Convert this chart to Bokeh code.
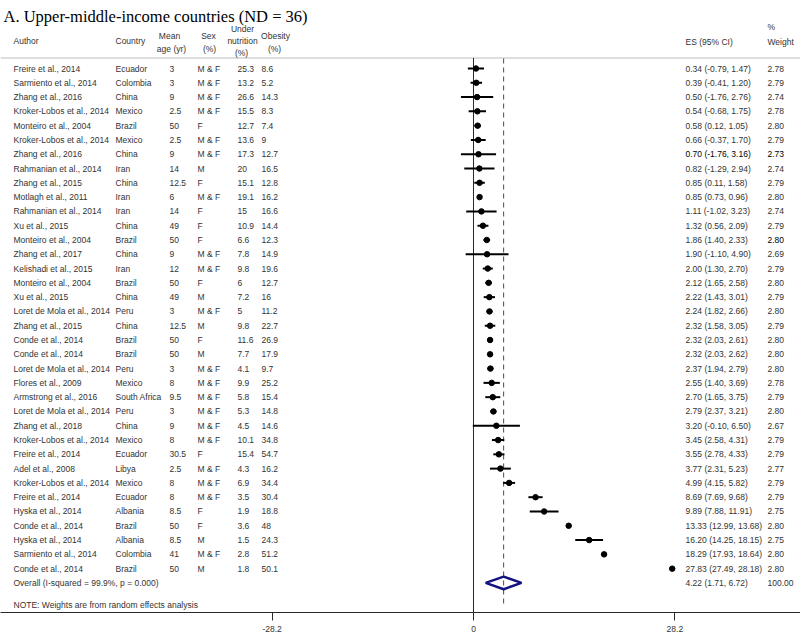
from bokeh.plotting import figure
from bokeh.models import Range1d, ColumnDataSource, FixedTicker
from bokeh.core.properties import value
from bokeh.embed import file_html
from bokeh.resources import INLINE

# ---------------- data ----------------
title = "A. Upper-middle-income countries (ND = 36)"
authors = ["Freire et al., 2014", "Sarmiento et al., 2014", "Zhang et al., 2016",
           "Kroker-Lobos et al., 2014", "Monteiro et al., 2004", "Kroker-Lobos et al., 2014",
           "Zhang et al., 2016", "Rahmanian et al., 2014", "Zhang et al., 2015",
           "Motlagh et al., 2011", "Rahmanian et al., 2014", "Xu et al., 2015",
           "Monteiro et al., 2004", "Zhang et al., 2017", "Kelishadi et al., 2015",
           "Monteiro et al., 2004", "Xu et al., 2015", "Loret de Mola et al., 2014",
           "Zhang et al., 2015", "Conde et al., 2014", "Conde et al., 2014",
           "Loret de Mola et al., 2014", "Flores et al., 2009", "Armstrong et al., 2016",
           "Loret de Mola et al., 2014", "Zhang et al., 2018", "Kroker-Lobos et al., 2014",
           "Freire et al., 2014", "Adel et al., 2008", "Kroker-Lobos et al., 2014",
           "Freire et al., 2014", "Hyska et al., 2014", "Conde et al., 2014",
           "Hyska et al., 2014", "Sarmiento et al., 2014", "Conde et al., 2014"]
countries = ["Ecuador", "Colombia", "China", "Mexico", "Brazil", "Mexico", "China", "Iran",
             "China", "Iran", "Iran", "China", "Brazil", "China", "Iran", "Brazil", "China",
             "Peru", "China", "Brazil", "Brazil", "Peru", "Mexico", "South Africa", "Peru",
             "China", "Mexico", "Ecuador", "Libya", "Mexico", "Ecuador", "Albania", "Brazil",
             "Albania", "Colombia", "Brazil"]
mean_age = [3, 3, 9, 2.5, 50, 2.5, 9, 14, 12.5, 6, 14, 49, 50, 9, 12, 50, 49, 3, 12.5, 50,
            50, 3, 8, 9.5, 3, 9, 8, 30.5, 2.5, 8, 8, 8.5, 50, 8.5, 41, 50]
sex = ["M & F", "M & F", "M & F", "M & F", "F", "M & F", "M & F", "M", "F", "M & F",
       "F", "F", "F", "M & F", "M & F", "F", "M", "M & F", "M", "F",
       "M", "M & F", "M & F", "M & F", "M & F", "M & F", "M & F", "F", "M & F", "M & F",
       "M & F", "F", "F", "M", "M & F", "M"]
undernutrition = [25.3, 13.2, 26.6, 15.5, 12.7, 13.6, 17.3, 20, 15.1, 19.1, 15, 10.9, 6.6,
                  7.8, 9.8, 6, 7.2, 5, 9.8, 11.6, 7.7, 4.1, 9.9, 5.8, 5.3, 4.5, 10.1, 15.4,
                  4.3, 6.9, 3.5, 1.9, 3.6, 1.5, 2.8, 1.8]
obesity = [8.6, 5.2, 14.3, 8.3, 7.4, 9, 12.7, 16.5, 12.8, 16.2, 16.6, 14.4, 12.3, 14.9,
           19.6, 12.7, 16, 11.2, 22.7, 26.9, 17.9, 9.7, 25.2, 15.4, 14.8, 14.6, 34.8, 54.7,
           16.2, 34.4, 30.4, 18.8, 48, 24.3, 51.2, 50.1]
es = [0.34, 0.39, 0.50, 0.54, 0.58, 0.66, 0.70, 0.82, 0.85, 0.85, 1.11, 1.32, 1.86, 1.90,
      2.00, 2.12, 2.22, 2.24, 2.32, 2.32, 2.32, 2.37, 2.55, 2.70, 2.79, 3.20, 3.45, 3.55,
      3.77, 4.99, 8.69, 9.89, 13.33, 16.20, 18.29, 27.83]
ci_low = [-0.79, -0.41, -1.76, -0.68, 0.12, -0.37, -1.76, -1.29, 0.11, 0.73, -1.02, 0.56,
          1.40, -1.10, 1.30, 1.65, 1.43, 1.82, 1.58, 2.03, 2.03, 1.94, 1.40, 1.65, 2.37,
          -0.10, 2.58, 2.78, 2.31, 4.15, 7.69, 7.88, 12.99, 14.25, 17.93, 27.49]
ci_high = [1.47, 1.20, 2.76, 1.75, 1.05, 1.70, 3.16, 2.94, 1.58, 0.96, 3.23, 2.09, 2.33,
           4.90, 2.70, 2.58, 3.01, 2.66, 3.05, 2.61, 2.62, 2.79, 3.69, 3.75, 3.21, 6.50,
           4.31, 4.33, 5.23, 5.82, 9.68, 11.91, 13.68, 18.15, 18.64, 28.18]
weight = [2.78, 2.79, 2.74, 2.78, 2.80, 2.79, 2.73, 2.74, 2.79, 2.80, 2.74, 2.79, 2.80,
          2.69, 2.79, 2.80, 2.79, 2.80, 2.79, 2.80, 2.80, 2.80, 2.78, 2.79, 2.80, 2.67,
          2.79, 2.79, 2.77, 2.79, 2.79, 2.75, 2.80, 2.75, 2.80, 2.80]
overall_es = 4.22
overall_low = 1.71
overall_high = 6.72
overall_weight = 100.00
overall_label = "Overall  (I-squared = 99.9%, p = 0.000)"
note = "NOTE: Weights are from random effects analysis"
x_ticks = [-28.2, 0, 28.2]
x_tick_labels = ["-28.2", "0", "28.2"]

# ---------------- layout helpers (screen pixels -> data units) ----------------
W, H = 800, 636
X0 = 473.0       # screen x of ES = 0
XS = 7.14        # pixels per ES unit
ROW0 = 68.0      # screen y of first study row
RS = 14.29       # pixels per row
AXIS_Y = 612
BOTTOM = H - AXIS_Y


def xd(px):
    return (px - X0) / XS


def yd(py):
    return (py - ROW0) / RS


n = len(es)
rows = list(range(n))

p = figure(width=W, height=H, output_backend="svg", toolbar_location=None,
           x_range=Range1d(xd(0), xd(W)),
           y_range=Range1d(yd(AXIS_Y), yd(0)),
           y_axis_location=None, min_border_left=0, min_border_right=0,
           min_border_top=0, min_border_bottom=BOTTOM)
p.xgrid.visible = False
p.ygrid.visible = False
p.outline_line_color = None
p.background_fill_color = "white"

ax = p.xaxis[0]
ax.ticker = FixedTicker(ticks=x_ticks)
ax.major_label_overrides = {t: s for t, s in zip(x_ticks, x_tick_labels)}
ax.axis_line_color = "#2a2a2a"
ax.axis_line_width = 1
ax.major_tick_line_color = "#2a2a2a"
ax.major_tick_in = 0
ax.major_tick_out = 8
ax.minor_tick_in = 0
ax.minor_tick_out = 0
ax.major_label_standoff = 5
ax.major_label_text_font = "Liberation Sans"
ax.major_label_text_font_size = "8.5px"
ax.major_label_text_color = "#333333"

FONT = value("Liberation Sans")
FS = "8.5px"
TC = "#333333"

# header rule, zero line and overall dashed line
p.segment(x0=[xd(0)], x1=[xd(W)], y0=[yd(57.5)], y1=[yd(57.5)],
          line_color="#bdbdbd", line_width=1)
p.segment(x0=[0], x1=[0], y0=[yd(57.5)], y1=[yd(AXIS_Y)], line_color="#2a2a2a",
          line_width=1)
p.segment(x0=[overall_es], x1=[overall_es], y0=[yd(58)], y1=[yd(607)],
          line_color="#8c2d2d", line_width=1, line_dash="5 4")

src = ColumnDataSource(dict(
    y=rows, es=es, lo=ci_low, hi=ci_high,
    author=authors, country=countries,
    age=[f"{v:g}" for v in mean_age], sex=sex,
    under=[f"{v:g}" for v in undernutrition], obes=[f"{v:g}" for v in obesity],
    est=[f"{e:.2f} ({l:.2f}, {h:.2f})" for e, l, h in zip(es, ci_low, ci_high)],
    wt=[f"{w:.2f}" for w in weight],
    c_est=["#000000" if i == 6 else TC for i in rows],
    c_wt=["#000000" if i in (6, 12) else TC for i in rows],
))

# confidence intervals and point estimates
p.segment(x0="lo", x1="hi", y0="y", y1="y", source=src, line_color="black", line_width=2)
p.scatter(x="es", y="y", source=src, marker="circle", size=5.5,
          fill_color="black", line_color="black")

# overall diamond
dh = 0.44
p.patch(x=[overall_low, overall_es, overall_high, overall_es],
        y=[n, n - dh, n, n + dh], fill_color=None, line_color="#141480", line_width=2.5)

# table columns
for col, xpx in [("author", 13), ("country", 115), ("age", 169), ("sex", 197),
                 ("under", 237), ("obes", 261)]:
    p.text(x=xd(xpx), y="y", text=col, source=src, text_font=FONT, text_font_size=FS,
           text_color=TC, text_baseline="middle", text_align="left")
p.text(x=xd(685), y="y", text="est", source=src, text_font=FONT, text_font_size=FS,
       text_color="c_est", text_baseline="middle", text_align="left")
p.text(x=xd(767), y="y", text="wt", source=src, text_font=FONT, text_font_size=FS,
       text_color="c_wt", text_baseline="middle", text_align="left")

# overall row and note
p.text(x=[xd(13), xd(685), xd(767)], y=[n, n, n],
       text=[overall_label, f"{overall_es:.2f} ({overall_low:.2f}, {overall_high:.2f})",
             f"{overall_weight:.2f}"],
       text_font=FONT, text_font_size=FS, text_color=TC, text_baseline="middle",
       text_align="left")
p.text(x=[xd(13)], y=[yd(604)], text=[note], text_font=FONT, text_font_size=FS,
       text_color=TC, text_baseline="middle", text_align="left")

# header
headers = [("Author", 13, 40, "left"), ("Country", 115, 40, "left"),
           ("Mean", 169, 35, "center"), ("age (yr)", 171, 48, "center"),
           ("Sex", 208, 35, "center"), ("(%)", 209, 48, "center"),
           ("Under", 242, 28, "center"), ("nutrition", 242, 40, "center"),
           ("(%)", 241, 52, "center"), ("Obesity", 275, 35, "center"),
           ("(%)", 274, 48, "center"), ("ES (95% CI)", 685, 41, "left"),
           ("%", 767, 26, "left"), ("Weight", 767, 41, "left")]
for txt, xp, yp, al in headers:
    p.text(x=[xd(xp)], y=[yd(yp)], text=[txt], text_font=FONT, text_font_size=FS,
           text_color=TC, text_baseline="middle", text_align=al)

# title
p.text(x=[xd(3)], y=[yd(16)], text=[title], text_font=value("Liberation Serif"),
       text_font_size="16.5px", text_color="black", text_baseline="alphabetic",
       text_align="left")

open("out.html", "w").write(file_html(p, INLINE))
